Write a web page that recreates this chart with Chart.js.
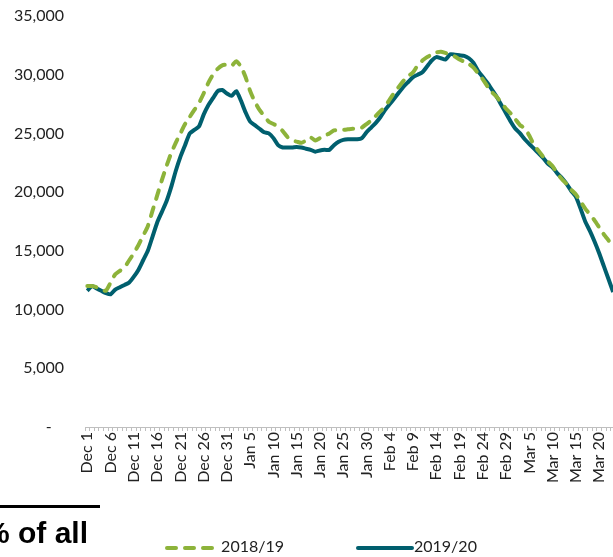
<!DOCTYPE html>
<html>
<head>
<meta charset="utf-8">
<script src="https://cdn.jsdelivr.net/npm/chart.js@4"></script>
<style>
    body { margin: 0; overflow: hidden; background: #fff; font-family: Lato, sans-serif; }
    #wrap { position: relative; width: 613px; height: 557px; overflow: hidden; }
    #chart { position: absolute; left: 0; top: 0; }
    .rule { position: absolute; left: 0; top: 505px; width: 100px; height: 2.5px; background: #000; }
    .note { position: absolute; right: calc(613px - 88px); top: 516px; font: bold 30px "Liberation Sans", Arial, sans-serif; color: #000; white-space: nowrap; }
    .legend { position: absolute; top: 536px; font-size: 16px; color: #222; white-space: nowrap; }
    .legend svg { vertical-align: middle; }
</style>
</head>
<body>
<div id="wrap">
    <canvas id="chart" width="662" height="557"></canvas>
    <div class="rule"></div>
    <div class="note">% of all</div>
    <div class="legend" style="left:163px">
        <svg width="54" height="8"><line x1="4" y1="4" x2="50" y2="4" stroke="#8DB33A" stroke-width="4" stroke-linecap="round" stroke-dasharray="9 9"/></svg>
        <span>2018/19</span>
    </div>
    <div class="legend" style="left:356px">
        <svg width="58" height="8"><line x1="2" y1="4" x2="56" y2="4" stroke="#005F6E" stroke-width="4" stroke-linecap="round"/></svg><span>2019/20</span>
    </div>
</div>

<script>
// Categories: one per day, Dec 1 onwards (the picture is cut off on the right)
const months = ['Dec', 'Jan', 'Feb', 'Mar', 'Apr'];
const monthDays = [31, 31, 29, 31, 2];

// y axis tick values
const yTicks = [0, 5000, 10000, 15000, 20000, 25000, 30000, 35000];

// 2018/19, Dec 1 .. Mar 23
const season1819 = [
    12000, 12000, 11900, 11700, 11600, 12300, 13000, 13300, 13600, 14200,
    14800, 15500, 16300, 17100, 18400, 19700, 21000, 22200, 23300, 24200,
    25000, 25800, 26400, 27000, 27600, 28400, 29300, 30000, 30500, 30800,
    30850, 30750, 31150, 30700, 29800, 28600, 27700, 27000, 26500, 26000,
    25800, 25600, 25200, 24700, 24400, 24300, 24200, 24400, 24650, 24400,
    24600, 24800, 25000, 25250, 25300, 25300, 25350, 25400, 25400, 25500,
    25800, 26100, 26500, 26900, 27300, 27900, 28500, 29000, 29500, 29900,
    30200, 30800, 31200, 31500, 31700, 31900, 31950, 31850, 31750, 31550,
    31300, 31100, 30900, 30600, 30100, 29600, 29000, 28500, 28100, 27600,
    27100, 26700, 26200, 25700, 25450, 24800, 24000, 23500, 23000, 22600,
    22200, 21600, 21100, 20700, 20200, 19800, 19200, 18600, 18100, 17600,
    17000, 16400, 15900, 15400
];

// 2019/20 - solid teal line, Dec 1 .. Mar 23
const season1920 = [
    11600, 12000, 11800, 11600, 11400, 11300, 11700, 11900, 12100, 12300,
    12800, 13400, 14200, 15000, 16200, 17400, 18300, 19200, 20400, 21800,
    23000, 24000, 25000, 25300, 25600, 26600, 27400, 28000, 28600, 28700,
    28400, 28200, 28600, 27800, 26800, 26000, 25700, 25400, 25100, 25000,
    24600, 24000, 23800, 23800, 23800, 23850, 23800, 23700, 23600, 23450,
    23550, 23600, 23600, 24000, 24300, 24450, 24500, 24500, 24500, 24600,
    25100, 25500, 25900, 26400, 27000, 27500, 28000, 28500, 29000, 29400,
    29800, 30000, 30200, 30700, 31200, 31500, 31400, 31300, 31750, 31700,
    31650, 31600, 31400, 31000, 30300, 29800, 29300, 28700, 28100, 27400,
    26700, 26000, 25400, 25000, 24500, 24100, 23700, 23300, 22900, 22400,
    22100, 21600, 21200, 20700, 20100, 19600, 18600, 17500, 16700, 15800,
    14800, 13700, 12600, 11500
];

const GREEN = '#8DB33A';
const TEAL = '#005F6E';

// build the day labels from the month list
const days = [];
months.forEach((m, i) => {
    for (let d = 1; d <= monthDays[i]; d++) days.push(m + ' ' + d);
});

const ctx = document.getElementById('chart');

new Chart(ctx, {
    type: 'line',
    data: {
        labels: days,
        datasets: [
            {
                label: '2018/19',
                data: season1819,
                borderColor: GREEN,
                borderWidth: 4,
                borderDash: [9, 9],
                borderCapStyle: 'round',
                pointRadius: 0,
                tension: 0.2,
                fill: false
            },
            {
                label: '2019/20',
                data: season1920,
                borderColor: TEAL,
                borderWidth: 4,
                borderJoinStyle: 'round',
                pointRadius: 0,
                tension: 0.2,
                fill: false
            }
        ]
    },
    options: {
        responsive: false,
        animation: false,
        layout: { padding: { top: 16, right: 0, bottom: 0, left: 0 } },
        plugins: {
            legend: { display: false },
            tooltip: { enabled: false }
        },
        scales: {
            x: {
                offset: true,
                afterFit: (scale) => {
                    scale.height = 130;
                    scale.paddingLeft = 0;
                    scale.paddingRight = 0;
                },
                border: { display: true, color: '#bfbfbf', width: 1 },
                grid: {
                    offset: true,
                    drawOnChartArea: false,
                    drawTicks: true,
                    tickLength: 4,
                    color: '#bfbfbf'
                },
                ticks: {
                    autoSkip: false,
                    maxRotation: 90,
                    minRotation: 90,
                    padding: 1,
                    color: '#222',
                    font: { family: 'Lato', size: 16 },
                    callback: function(val, i) {
                        return i % 5 === 0 ? this.getLabelForValue(val) : '';
                    }
                }
            },
            y: {
                min: 0,
                max: 35000,
                afterFit: (scale) => {
                    scale.width = 85;
                    scale.paddingTop = 0;
                    scale.paddingBottom = 0;
                },
                afterBuildTicks: (scale) => { scale.ticks = yTicks.map(v => ({ value: v })); },
                border: { display: false },
                grid: { display: false, drawTicks: false },
                ticks: {
                    padding: 21,
                    color: '#222',
                    font: { family: 'Lato', size: 16 },
                    callback: (v) => v === 0 ? '-   ' : v.toLocaleString('en-US')
                }
            }
        }
    }
});
</script>
</body>
</html>
